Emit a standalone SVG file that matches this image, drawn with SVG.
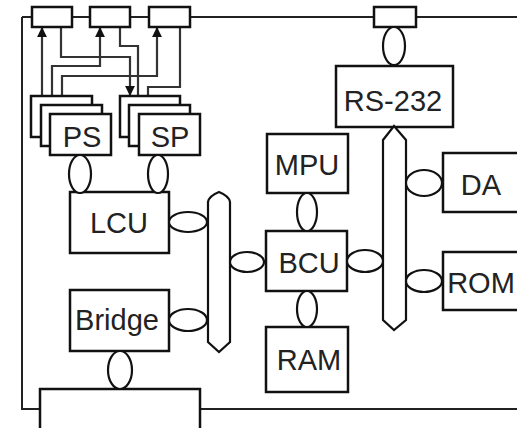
<svg xmlns="http://www.w3.org/2000/svg" width="517" height="428" viewBox="0 0 517 428">
<defs>
<marker id="ah" viewBox="0 0 10 10" refX="10" refY="5" markerWidth="4.5" markerHeight="4.5" orient="auto" markerUnits="strokeWidth">
<path d="M0,0 L10,5 L0,10 z" fill="#111"/>
</marker>
<style>
.bx{fill:#fff;stroke:#111;stroke-width:2.5}
.ln{fill:none;stroke:#222;stroke-width:2}
.wl{fill:none;stroke:#333;stroke-width:2.2;marker-end:url(#ah)}
.el{fill:#fff;stroke:#111;stroke-width:2.2}
.bus{fill:#fff;stroke:#111;stroke-width:2.2}
.t{font-family:"Liberation Sans",Arial,sans-serif;font-size:29px;fill:#222;text-anchor:middle}
</style>
</defs>
<rect width="517" height="428" fill="#fff"/>
<g id="connectors">
<path class="ln" d="M22,17 H517"/>
<path class="ln" d="M22,17 V409 H517" stroke="#555" stroke-width="2.5"/>
<path class="wl" d="M42,96 V27"/>
<path class="wl" d="M52,105 V66 H100 V27"/>
<path class="wl" d="M62,114 V76 H157 V27"/>
<path class="wl" d="M61,27 V57 H130 V96"/>
<path class="wl" d="M120,27 V46 H138 V105"/>
<path class="wl" d="M180,27 V87 H148 V114"/>
</g>
<g id="top1"><rect class="bx" x="32" y="7" width="40" height="20"/></g>
<g id="top2"><rect class="bx" x="90" y="7" width="40" height="20"/></g>
<g id="top3"><rect class="bx" x="149" y="7" width="41" height="20"/></g>
<g id="top4"><rect class="bx" x="374" y="7" width="42" height="20"/></g>
<g id="PS">
<rect class="bx" x="31" y="96" width="61" height="41"/>
<rect class="bx" x="41" y="105" width="61" height="41"/>
<rect class="bx" x="50" y="114" width="61" height="41"/>
<text class="t" x="82" y="147">PS</text>
</g>
<g id="SP">
<rect class="bx" x="120" y="96" width="60" height="41"/>
<rect class="bx" x="129" y="105" width="61" height="41"/>
<rect class="bx" x="139" y="114" width="61" height="41"/>
<text class="t" x="170" y="147">SP</text>
</g>
<g id="LCU"><rect class="bx" x="70" y="192" width="99" height="61"/><text class="t" x="119" y="233">LCU</text></g>
<g id="Bridge"><rect class="bx" x="70" y="290" width="99" height="61"/><text class="t" x="117" y="330">Bridge</text></g>
<g id="Bottom"><rect class="bx" x="40" y="389" width="160" height="45"/></g>
<g id="MPU"><rect class="bx" x="267" y="134" width="81" height="59"/><text class="t" x="307" y="175">MPU</text></g>
<g id="BCU"><rect class="bx" x="266" y="231" width="81" height="60"/><text class="t" x="309" y="273">BCU</text></g>
<g id="RAM"><rect class="bx" x="266" y="327" width="82" height="65"/><text class="t" x="309" y="370">RAM</text></g>
<g id="RS232"><rect class="bx" x="336" y="66" width="117" height="61"/><text class="t" x="393" y="111">RS-232</text></g>
<g id="DA"><rect class="bx" x="443" y="153" width="80" height="59"/><text class="t" x="481" y="195">DA</text></g>
<g id="ROM"><rect class="bx" x="443" y="252" width="80" height="58"/><text class="t" x="481" y="293">ROM</text></g>
<g id="bus1"><path class="bus" d="M208,202 Q209,196 219,192 Q229,196 230,202 V342 L219,352 L208,342 Z"/></g>
<g id="bus2"><path class="bus" d="M383,140 L394,126 L406,140 V320 L394,330 L383,320 Z"/></g>
<g id="links">
<ellipse class="el" cx="80" cy="174" rx="11" ry="19"/>
<ellipse class="el" cx="158" cy="174" rx="10" ry="19"/>
<ellipse class="el" cx="188" cy="222" rx="19" ry="10"/>
<ellipse class="el" cx="188" cy="320" rx="19" ry="11"/>
<ellipse class="el" cx="120" cy="370" rx="12" ry="19"/>
<ellipse class="el" cx="247" cy="262" rx="17" ry="10"/>
<ellipse class="el" cx="307" cy="212" rx="10" ry="19"/>
<ellipse class="el" cx="307" cy="309" rx="10" ry="18"/>
<ellipse class="el" cx="365" cy="261" rx="18" ry="11"/>
<ellipse class="el" cx="424" cy="183" rx="18" ry="13"/>
<ellipse class="el" cx="424" cy="281" rx="18" ry="11"/>
<ellipse class="el" cx="394" cy="46" rx="11" ry="19"/>
</g>
</svg>
